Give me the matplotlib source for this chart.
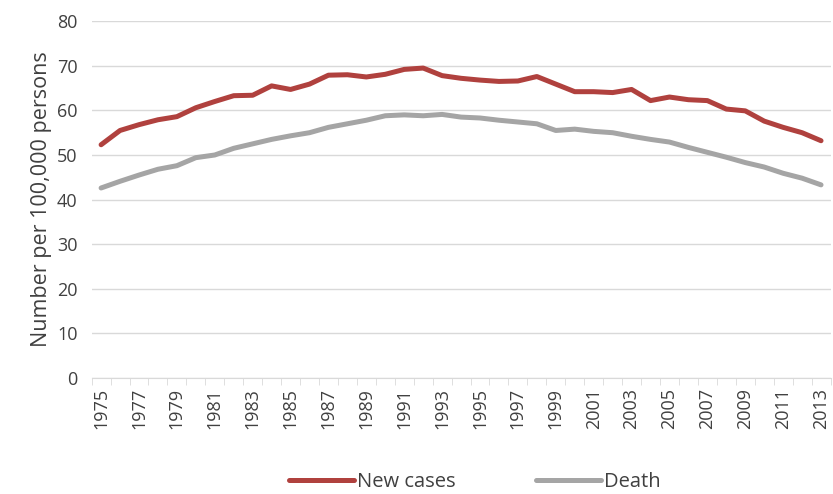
import numpy as np
import matplotlib.pyplot as plt

plt.rcParams['font.family'] = ['Open Sans', 'DejaVu Sans']

years = list(range(1975, 2014))
new_cases = [52.3, 55.5, 56.8, 57.9, 58.6, 60.6, 62.0, 63.3, 63.4, 65.5,
             64.7, 65.9, 67.9, 68.0, 67.5, 68.1, 69.2, 69.5, 67.8, 67.2,
             66.8, 66.5, 66.6, 67.6, 65.9, 64.2, 64.2, 64.0, 64.7, 62.2,
             63.0, 62.4, 62.2, 60.3, 59.9, 57.6, 56.2, 55.0, 53.2]
death = [42.6, 44.1, 45.5, 46.8, 47.6, 49.4, 50.0, 51.5, 52.5, 53.5,
         54.3, 55.0, 56.2, 57.0, 57.8, 58.8, 59.0, 58.8, 59.1, 58.5,
         58.3, 57.8, 57.4, 57.0, 55.5, 55.8, 55.3, 55.0, 54.2, 53.5,
         52.9, 51.7, 50.6, 49.5, 48.3, 47.3, 45.9, 44.8, 43.3]

fig = plt.figure(figsize=(8.33, 4.94), dpi=100)
ax = fig.add_axes([0.110, 0.235, 0.887, 0.722])

x = np.arange(len(years))
ax.plot(x, new_cases, color='#B0413E', lw=3.6, label='New cases', solid_capstyle='round', zorder=3)
ax.plot(x, death, color='#A5A5A5', lw=3.6, label='Death', solid_capstyle='round', zorder=3)

ax.set_xlim(-0.5, len(years) - 0.5)
ax.set_ylim(0, 80)
ax.set_yticks(range(0, 81, 10))
ax.grid(axis='y', color='#D9D9D9', lw=1)
ax.set_axisbelow(True)

# category axis: labels every other year, tick marks on boundaries
ax.set_xticks(x[::2])
ax.set_xticklabels([str(y) for y in years[::2]], rotation=90)
ax.set_xticks(np.arange(-0.5, len(years), 1), minor=True)
ax.tick_params(axis='x', which='major', length=0, pad=7, labelsize=13, labelcolor='#404040')
ax.tick_params(axis='x', which='minor', length=5, color='#D9D9D9', direction='out')
ax.tick_params(axis='y', length=0, labelsize=13, labelcolor='#404040', pad=10)

for s in ['top', 'right', 'left']:
    ax.spines[s].set_visible(False)
ax.spines['bottom'].set_color('#D9D9D9')

ax.set_ylabel('Number per 100,000 persons', fontsize=15.5, color='#404040', labelpad=4)

fig.legend(loc='lower center', ncol=2, frameon=False, fontsize=14.5,
           bbox_to_anchor=(0.57, -0.032), handlelength=3.2, handletextpad=0.15,
           columnspacing=4.0, labelcolor='#404040')

fig.savefig('out.png', dpi=100)
